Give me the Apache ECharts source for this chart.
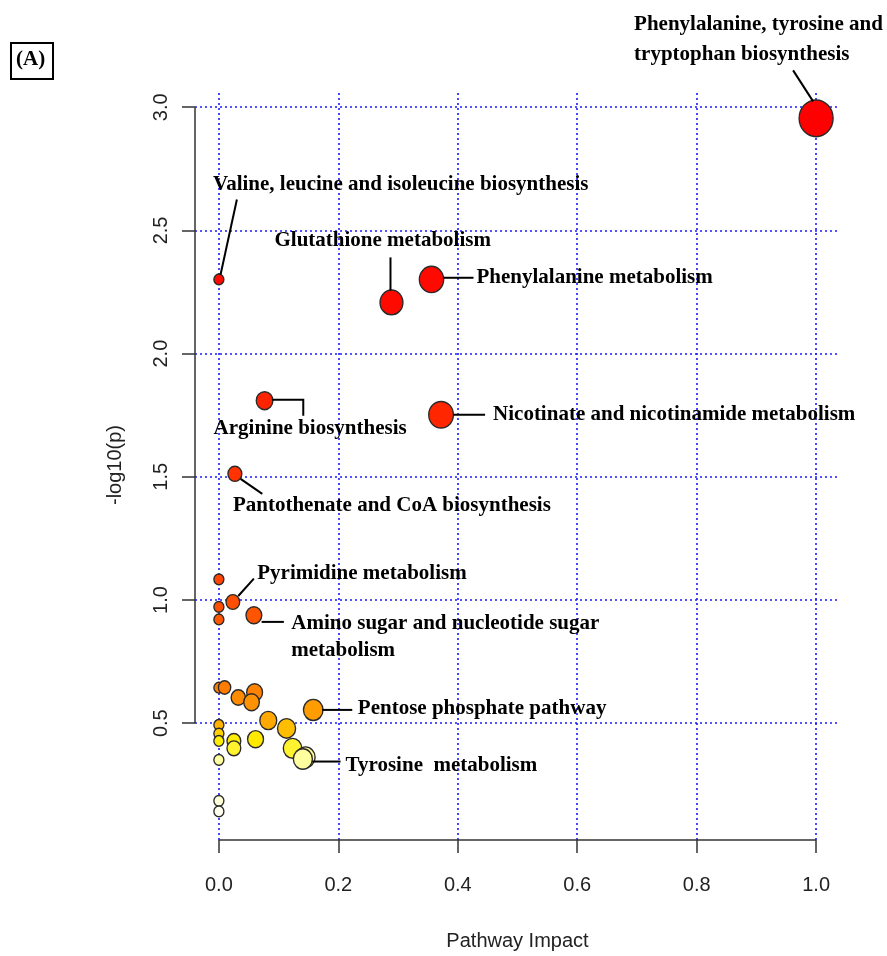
<!DOCTYPE html>
<html>
<head>
<meta charset="utf-8">
<script src="https://cdn.jsdelivr.net/npm/echarts@6/dist/echarts.min.js"></script>
<style>
html,body{margin:0;padding:0;background:#fff;}
#chart{width:887px;height:956px;}
</style>
</head>
<body>
<div id="chart"></div>
<script>
// ---- data ----
const pathways = [
  'Phenylalanine, tyrosine and\ntryptophan biosynthesis',
  'Valine, leucine and isoleucine biosynthesis',
  'Glutathione metabolism',
  'Phenylalanine metabolism',
  'Arginine biosynthesis',
  'Nicotinate and nicotinamide metabolism',
  'Pantothenate and CoA biosynthesis',
  'Pyrimidine metabolism',
  '', '', '',
  'Amino sugar and nucleotide sugar\nmetabolism',
  '', '', '', '', '',
  'Pentose phosphate pathway',
  '', '', '', '', '', '', '', '', '', '',
  'Tyrosine  metabolism',
  '', '', ''
];
const impact = [1.0, 0, 0.289, 0.356, 0.0765, 0.372, 0.0268, 0.0234, 0, 0, 0, 0.0586,
  0, 0.0095, 0.0325, 0.0598, 0.0547, 0.158, 0.0827, 0.1133, 0, 0, 0, 0.0251, 0.0251,
  0.0614, 0.1233, 0.1451, 0.1406, 0, 0, 0];
const logp = [2.955, 2.301, 2.208, 2.301, 1.809, 1.752, 1.512, 0.992, 1.084, 0.972, 0.921, 0.938,
  0.644, 0.645, 0.604, 0.625, 0.585, 0.554, 0.511, 0.479, 0.493, 0.458, 0.428, 0.428, 0.398,
  0.435, 0.398, 0.362, 0.355, 0.351, 0.185, 0.142];
const xTicks = [0, 0.2, 0.4, 0.6, 0.8, 1.0];
const yTicks = [0.5, 1.0, 1.5, 2.0, 2.5, 3.0];

// ---- layout / style config ----
const xMin = -0.04, xMax = 1.04, yMin = 0.026, yMax = 3.07;
// label offsets (px) relative to the point centre, and leader polylines
const labelLayout = {
  0: {dx: -182, dy: -79, lh: 30, line: [[-23, -48], [-3, -17]]},
  1: {dx: -6, dy: -95, lh: 24, line: [[18, -80], [1.7, -5]]},
  2: {dx: -117, dy: -62, lh: 24, line: [[-1, -45], [-1, -12]]},
  3: {dx: 45, dy: -2, lh: 24, line: [[12, -1.7], [42, -1.7]]},
  4: {dx: -51, dy: 28, lh: 24, line: [[7.7, -1], [38.7, -1], [38.7, 15]]},
  5: {dx: 52, dy: 0, lh: 24, line: [[12, 0], [44, 0]]},
  6: {dx: -2, dy: 32, lh: 24, line: [[5.7, 5], [27.4, 20]]},
  7: {dx: 24.4, dy: -28, lh: 24, line: [[5.4, -6], [21, -23.3]]},
  11: {dx: 37.4, dy: 21.8, lh: 27, line: [[7.7, 6.6], [30, 6.6]]},
  17: {dx: 44.6, dy: -1.7, lh: 24, line: [[9, 0], [39, 0]]},
  28: {dx: 42.7, dy: 6.3, lh: 24, line: [[9.4, 2.6], [37.7, 2.6]]}
};
const heatStops = [
  [0.14, '#fffff0'], [0.19, '#ffffd6'], [0.355, '#ffffa0'], [0.40, '#fff22a'],
  [0.43, '#ffee00'], [0.46, '#ffd000'], [0.49, '#ffb400'], [0.52, '#ffa400'],
  [0.56, '#ff9c00'], [0.60, '#ff8c00'], [0.65, '#ff7a00'], [0.95, '#ff5200'],
  [1.09, '#ff4400'], [1.5, '#ff3300'], [1.8, '#ff2400'], [2.2, '#ff0a00'], [2.96, '#ff0000']
];
function hex2rgb(h){return [parseInt(h.substr(1,2),16),parseInt(h.substr(3,2),16),parseInt(h.substr(5,2),16)];}
function heat(v){
  if (v <= heatStops[0][0]) return heatStops[0][1];
  for (let i = 1; i < heatStops.length; i++) {
    if (v <= heatStops[i][0]) {
      const a = heatStops[i-1], b = heatStops[i];
      const t = (v - a[0]) / (b[0] - a[0]);
      const ca = hex2rgb(a[1]), cb = hex2rgb(b[1]);
      const c = ca.map((x, k) => Math.round(x + (cb[k] - x) * t));
      return 'rgb(' + c.join(',') + ')';
    }
  }
  return heatStops[heatStops.length-1][1];
}
function diam(x){ return 10 + 24 * Math.sqrt(Math.max(0, x)); }

const axisFont = 'Liberation Sans';
const labelFont = 'bold 21px "Liberation Serif", "Times New Roman", serif';
const gridStyle = {color: '#1a1aff', width: 1.6, type: [2, 3]};

const points = impact.map((x, i) => [x, logp[i], i]);
const annotated = points.filter(p => pathways[p[2]]);

const chart = echarts.init(document.getElementById('chart'), null, {renderer: 'canvas'});
chart.setOption({
  backgroundColor: '#fff',
  animation: false,
  grid: {left: 195, right: 47, top: 90, bottom: 114},
  xAxis: {
    type: 'value', min: xMin, max: xMax,
    name: 'Pathway Impact', nameLocation: 'middle', nameGap: 91,
    nameTextStyle: {fontFamily: axisFont, fontSize: 20, color: '#222'},
    axisLine: {show: false, onZero: false},
    axisTick: {show: true, inside: false, customValues: xTicks, length: 13, lineStyle: {color: '#333', width: 1.5}},
    axisLabel: {customValues: xTicks, margin: 35, fontFamily: axisFont, fontSize: 20, color: '#222',
      formatter: v => v.toFixed(1)},
    splitLine: {show: false}
  },
  yAxis: {
    type: 'value', min: yMin, max: yMax,
    name: '-log10(p)', nameLocation: 'middle', nameGap: 70,
    nameTextStyle: {fontFamily: axisFont, fontSize: 20, color: '#222'},
    axisLine: {show: false, onZero: false},
    axisTick: {show: true, inside: false, customValues: yTicks, length: 13, lineStyle: {color: '#333', width: 1.5}},
    axisLabel: {customValues: yTicks, margin: 24, rotate: 90, fontFamily: axisFont, fontSize: 20, color: '#222',
      formatter: v => v.toFixed(1)},
    splitLine: {show: false}
  },
  graphic: [
    {type: 'rect', left: 10, top: 42, shape: {width: 42, height: 36},
      style: {fill: '#fff', stroke: '#000', lineWidth: 2}, z: 10},
    {type: 'text', left: 16, top: 49, style: {text: '(A)', font: labelFont, fill: '#000'}, z: 11}
  ],
  series: [
    {
      type: 'scatter',
      silent: true,
      data: points,
      symbolSize: v => { const d = diam(v[0]); return [d, d * 1.08]; },
      itemStyle: {
        color: p => heat(p.value[1]),
        borderColor: '#2a2a2a', borderWidth: 1.4, opacity: 1
      },
      markLine: {
        silent: true, symbol: 'none', label: {show: false},
        lineStyle: gridStyle,
        data: xTicks.map(v => ({xAxis: v})).concat(yTicks.map(v => ({yAxis: v}))),
        z: 1
      },
      z: 3
    },
    {
      type: 'scatter', silent: true, data: [], symbolSize: 0,
      markLine: {
        silent: true, symbol: 'none', label: {show: false},
        lineStyle: {color: '#333', width: 1.5, type: 'solid'},
        data: [
          [{coord: [xMin, yTicks[0]]}, {coord: [xMin, yTicks[yTicks.length-1]]}],
          [{coord: [xTicks[0], yMin]}, {coord: [xTicks[xTicks.length-1], yMin]}]
        ]
      },
      z: 2
    },
    {
      type: 'custom',
      silent: true,
      clip: false,
      data: annotated,
      z: 4,
      renderItem: (params, api) => {
        const idx = api.value(2);
        const c = api.coord([api.value(0), api.value(1)]);
        const L = labelLayout[idx];
        const pts = L.line.map(o => [c[0] + o[0], c[1] + o[1]]);
        return {
          type: 'group',
          children: [
            {type: 'polyline', shape: {points: pts}, style: {stroke: '#000', lineWidth: 2, fill: null}},
            {type: 'text', x: c[0] + L.dx, y: c[1] + L.dy,
              style: {text: pathways[idx], font: labelFont, fill: '#000',
                align: 'left', verticalAlign: 'middle', lineHeight: L.lh}}
          ]
        };
      }
    }
  ]
});
</script>
</body>
</html>
